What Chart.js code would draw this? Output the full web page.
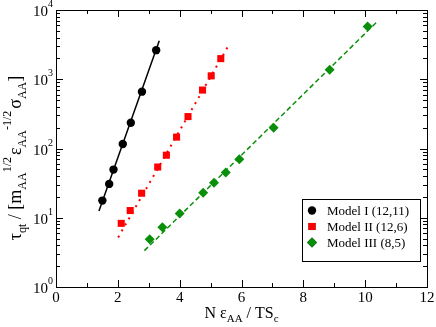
<!DOCTYPE html>
<html>
<head>
<meta charset="utf-8">
<script src="https://cdn.jsdelivr.net/npm/chart.js@4"></script>
<style>
  html, body { margin: 0; padding: 0; background: #fff; }
  #wrap { width: 436px; height: 327px; }
</style>
</head>
<body>
<div id="wrap"><canvas id="relaxChart" width="436" height="327"></canvas></div>
<script>
// Model I (12,11) - black circles
const m1X = [1.50, 1.72, 1.86, 2.16, 2.42, 2.78, 3.24];
const m1Y = [17.7, 30.8, 49.6, 116, 236, 662, 2630];
// Model II (12,6) - red squares
const m2X = [2.11, 2.40, 2.77, 3.29, 3.57, 3.90, 4.27, 4.74, 5.02, 5.33];
const m2Y = [8.3, 12.7, 22.6, 54, 80, 146, 289, 698, 1120, 1985];
// Model III (8,5) - green diamonds
const m3X = [3.03, 3.44, 4.00, 4.76, 5.11, 5.49, 5.93, 7.04, 8.85, 10.08];
const m3Y = [4.9, 7.3, 11.5, 23, 32, 45, 70, 200, 1370, 5780];

// fitted lines (end points)
const fit1X = [1.39, 3.34];
const fit1Y = [12.5, 3590];
const fit2X = [2.01, 5.60];
const fit2Y = [5.2, 3170];
const fit3X = [2.86, 10.37];
const fit3Y = [3.35, 6680];

const xTicks = [0, 2, 4, 6, 8, 10, 12];
const yDecades = [0, 1, 2, 3, 4];
const legendLabels = ['Model I (12,11)', 'Model II (12,6)', 'Model III (8,5)'];

const green = '#0a8f0a';
const serif = '"Liberation Serif", "DejaVu Serif", serif';

function pts(xs, ys) {
    return xs.map((x, i) => ({ x: x, y: ys[i] }));
}

// draws text pieces (normal / sub / sup) one after another, centred on 0
function drawPieces(ctx, pieces, cx, cy) {
    let total = 0;
    pieces.forEach(p => {
        ctx.font = p.size + 'px ' + serif;
        p.w = ctx.measureText(p.t).width;
        total += p.w + (p.gap || 0);
    });
    let x = cx - total / 2;
    pieces.forEach(p => {
        ctx.font = p.size + 'px ' + serif;
        ctx.fillText(p.t, x, cy + (p.dy || 0));
        x += p.w + (p.gap || 0);
    });
}

const frameAndText = {
    id: 'frameAndText',
    afterDatasetsDraw(chart) {
        const ctx = chart.ctx;
        const a = chart.chartArea;
        const xs = chart.scales.x, ys = chart.scales.y;
        ctx.save();
        ctx.strokeStyle = '#000';
        ctx.fillStyle = '#000';
        ctx.lineWidth = 1;
        ctx.strokeRect(a.left + 0.5, a.top + 0.5, a.right - a.left, a.bottom - a.top);

        ctx.beginPath();
        // x ticks, bottom and top
        for (let v = 0; v <= 12; v++) {
            const px = Math.round(xs.getPixelForValue(v)) + 0.5;
            const len = v % 2 === 0 ? 7 : 4;
            ctx.moveTo(px, a.bottom); ctx.lineTo(px, a.bottom - len);
            ctx.moveTo(px, a.top); ctx.lineTo(px, a.top + len);
        }
        // y ticks, left and right
        for (let d = 0; d <= 4; d++) {
            for (let m = 1; m <= 9; m++) {
                if (d === 4 && m > 1) break;
                const py = Math.round(ys.getPixelForValue(m * Math.pow(10, d))) + 0.5;
                const len = m === 1 ? 7 : 4;
                ctx.moveTo(a.left, py); ctx.lineTo(a.left + len, py);
                ctx.moveTo(a.right, py); ctx.lineTo(a.right - len, py);
            }
        }
        ctx.stroke();

        // x tick labels
        ctx.font = '15px ' + serif;
        ctx.textAlign = 'center';
        ctx.textBaseline = 'alphabetic';
        xTicks.forEach(v => {
            ctx.fillText(String(v), xs.getPixelForValue(v), a.bottom + 15);
        });

        // y tick labels 10^n
        yDecades.forEach(d => {
            const py = ys.getPixelForValue(Math.pow(10, d));
            ctx.font = '15px ' + serif;
            ctx.textAlign = 'right';
            ctx.fillText('10', a.left - 8, py + 6);
            ctx.font = '10px ' + serif;
            ctx.textAlign = 'left';
            ctx.fillText(String(d), a.left - 8, py - 3);
        });

        // x title
        ctx.textAlign = 'left';
        drawPieces(ctx, [
            { t: 'N ε', size: 16 },
            { t: 'AA', size: 11, dy: 4 },
            { t: ' / TS', size: 16 },
            { t: 'c', size: 11, dy: 4 }
        ], (a.left + a.right) / 2, 318);

        // y title (rotated)
        ctx.save();
        ctx.translate(21, 158);
        ctx.rotate(-Math.PI / 2);
        drawPieces(ctx, [
            { t: 'τ', size: 18 },
            { t: 'qt', size: 12, dy: 5 },
            { t: ' / [m', size: 18 },
            { t: 'AA', size: 12, dy: 5 },
            { t: '1/2', size: 12, dy: -10, gap: 2 },
            { t: 'ε', size: 18 },
            { t: 'AA', size: 12, dy: 5 },
            { t: '-1/2', size: 12, dy: -10, gap: 2 },
            { t: 'σ', size: 18 },
            { t: 'AA', size: 12, dy: 5 },
            { t: ']', size: 18 }
        ], 0, 0);
        ctx.restore();

        // legend box
        const lx = 302, ly = 199, lw = 118, lh = 62;
        ctx.fillStyle = '#fff';
        ctx.fillRect(lx, ly, lw, lh);
        ctx.strokeStyle = '#000';
        ctx.strokeRect(lx + 0.5, ly + 0.5, lw, lh);
        const rows = [210.5, 226.5, 242.5];
        ctx.font = '13px ' + serif;
        ctx.textAlign = 'left';
        ctx.textBaseline = 'middle';
        rows.forEach((ry, i) => {
            const ds = chart.data.datasets[i];
            Chart.helpers.drawPoint(ctx, {
                pointStyle: ds.pointStyle,
                radius: ds.pointRadius,
                borderWidth: 0
            }, 312, ry);
            ctx.fillStyle = ds.backgroundColor;
            ctx.fill();
            ctx.fillStyle = '#000';
            ctx.fillText(legendLabels[i], 327, ry + 1);
        });
        ctx.restore();
    }
};

const canvas = document.getElementById('relaxChart');
if (canvas) {
    const ctx = canvas.getContext('2d');
    new Chart(ctx, {
        type: 'scatter',
        data: {
            datasets: [
                { label: legendLabels[0], data: pts(m1X, m1Y), pointStyle: 'circle', pointRadius: 4.2, backgroundColor: '#000', borderColor: '#000', borderWidth: 0 },
                { label: legendLabels[1], data: pts(m2X, m2Y), pointStyle: 'rect', pointRadius: 5, backgroundColor: '#ff0000', borderColor: '#ff0000', borderWidth: 0 },
                { label: legendLabels[2], data: pts(m3X, m3Y), pointStyle: 'rectRot', pointRadius: 5, backgroundColor: green, borderColor: green, borderWidth: 0 },
                { label: 'fit1', data: pts(fit1X, fit1Y), showLine: true, pointRadius: 0, borderColor: '#000', borderWidth: 1.5 },
                { label: 'fit2', data: pts(fit2X, fit2Y), showLine: true, pointRadius: 0, borderColor: '#ff0000', borderWidth: 2, borderDash: [2, 5] },
                { label: 'fit3', data: pts(fit3X, fit3Y), showLine: true, pointRadius: 0, borderColor: green, borderWidth: 1.5, borderDash: [5, 3] }
            ]
        },
        options: {
            responsive: false,
            animation: false,
            layout: { padding: { left: 56, right: 9, top: 10, bottom: 40 } },
            scales: {
                x: { type: 'linear', min: 0, max: 12, display: false },
                y: { type: 'logarithmic', min: 1, max: 10000, display: false }
            },
            plugins: {
                legend: { display: false },
                tooltip: { enabled: false }
            }
        },
        plugins: [frameAndText]
    });
} else {
    console.error('canvas not found');
}
</script>
</body>
</html>
